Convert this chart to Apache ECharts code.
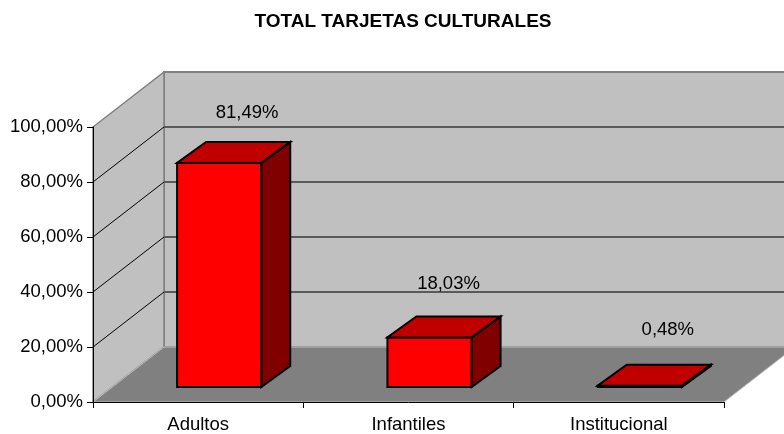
<!DOCTYPE html>
<html lang="en">
<head>
<meta charset="UTF-8">
<title>TOTAL TARJETAS CULTURALES</title>
<style>
html, body { margin: 0; padding: 0; background: #fff; }
#chart { width: 784px; height: 434px; }
</style>
<script src="https://cdn.jsdelivr.net/npm/echarts@6/dist/echarts.min.js"></script>
</head>
<body>
<div id="chart"></div>
<script>
var categories = ['Adultos', 'Infantiles', 'Institucional'];
var values = [81.49, 18.03, 0.48];
var valueLabels = ['81,49%', '18,03%', '0,48%'];
var yTicks = [0, 20, 40, 60, 80, 100];

// fake 3d: how far the back wall and the bars sit behind the front plane, in px
var wallDepth = [71, -55];
var barFront = [21, -15];
var barBack = [50, -36];
var labelShift = [[28, -50], [19, -54], [28, -56]];

var FONT = '"Liberation Sans", Arial, sans-serif';

function shift(p, d) {
    return [p[0] + d[0], p[1] + d[1]];
}

function poly(points, fill, stroke, lineWidth) {
    return {
        type: 'polygon',
        shape: { points: points },
        style: { fill: fill, stroke: stroke || null, lineWidth: lineWidth || 0, lineJoin: 'miter' }
    };
}

function line(a, b, color, width) {
    return {
        type: 'line',
        shape: { x1: a[0], y1: a[1], x2: b[0], y2: b[1] },
        style: { stroke: color, lineWidth: width }
    };
}

function renderWalls(params, api) {
    var g = params.coordSys;
    var tl = [g.x, g.y], bl = [g.x, g.y + g.height], br = [g.x + g.width, g.y + g.height];
    var tr = [g.x + g.width, g.y];
    var d = wallDepth;
    return {
        type: 'group',
        children: [
            poly([shift(tl, d), shift(tr, d), shift(br, d), shift(bl, d)], '#c0c0c0', '#808080', 2),
            poly([bl, shift(bl, d), shift(tl, d), tl], '#c0c0c0', '#808080', 1.5),
            poly([bl, shift(bl, d), shift(br, d), br], '#808080', '#c0c0c0', 1)
        ]
    };
}

function renderGridLine(params, api) {
    var g = params.coordSys;
    var y = api.coord([0, api.value(1)])[1];
    var front = [g.x, y];
    var back = shift(front, wallDepth);
    return {
        type: 'group',
        children: [
            line(front, back, '#000', 1),
            line(back, [g.x + g.width + wallDepth[0], back[1]], '#5a5a5a', 2)
        ]
    };
}

function renderBar(params, api) {
    var i = params.dataIndex;
    var band = api.size([1, 0])[0];
    var w = band * 0.4;
    var base = api.coord([i, 0]);
    var top = api.coord([i, api.value(1)]);
    var a = [base[0] - w / 2, top[1]], b = [base[0] + w / 2, top[1]];
    var c = [base[0] + w / 2, base[1]], e = [base[0] - w / 2, base[1]];
    var fa = shift(a, barFront), fb = shift(b, barFront), fc = shift(c, barFront), fe = shift(e, barFront);
    var ba = shift(a, barBack), bb = shift(b, barBack), bc = shift(c, barBack);
    return {
        type: 'group',
        children: [
            poly([fb, bb, bc, fc], '#800000', '#000', 2),
            poly([fa, fb, fc, fe], '#ff0000', '#000', 2),
            poly([fa, ba, bb, fb], '#c00000', '#000', 2),
            {
                type: 'text',
                style: {
                    x: fa[0] + w / 2 + labelShift[i][0],
                    y: fa[1] + labelShift[i][1],
                    text: valueLabels[i],
                    fill: '#000',
                    font: '18.5px ' + FONT,
                    align: 'center',
                    verticalAlign: 'middle'
                }
            }
        ]
    };
}

var option = {
    animation: false,
    backgroundColor: '#ffffff',
    title: {
        text: 'TOTAL TARJETAS CULTURALES',
        left: 398,
        top: 7,
        textAlign: 'center',
        textStyle: { color: '#000', fontFamily: FONT, fontSize: 19, fontWeight: 'bold' }
    },
    grid: { left: 93, top: 127, width: 631, height: 277 },
    xAxis: {
        type: 'category',
        data: categories,
        z: 10,
        axisLine: { lineStyle: { color: '#000', width: 1 } },
        axisTick: { show: true, length: 6, alignWithLabel: false, lineStyle: { color: '#000' } },
        axisLabel: { color: '#000', fontFamily: FONT, fontSize: 18.5, margin: 13 },
        splitLine: { show: false }
    },
    yAxis: {
        type: 'value',
        min: 0,
        max: 100,
        interval: 20,
        z: 10,
        axisLine: { show: true, lineStyle: { color: '#000', width: 1 } },
        axisTick: { show: true, length: 6, lineStyle: { color: '#000' } },
        axisLabel: {
            color: '#000',
            fontFamily: FONT,
            fontSize: 18.5,
            margin: 10,
            padding: [0, 0, 3, 0],
            formatter: function (v) { return v + ',00%'; }
        },
        splitLine: { show: false }
    },
    series: [
        { type: 'custom', z: 1, silent: true, data: [0], renderItem: renderWalls },
        { type: 'custom', z: 2, silent: true, data: yTicks.slice(1, -1), renderItem: renderGridLine },
        { type: 'custom', z: 3, data: values, renderItem: renderBar }
    ]
};

var chart = echarts.init(document.getElementById('chart'), null, { renderer: 'canvas' });
chart.setOption(option);
</script>
</body>
</html>
